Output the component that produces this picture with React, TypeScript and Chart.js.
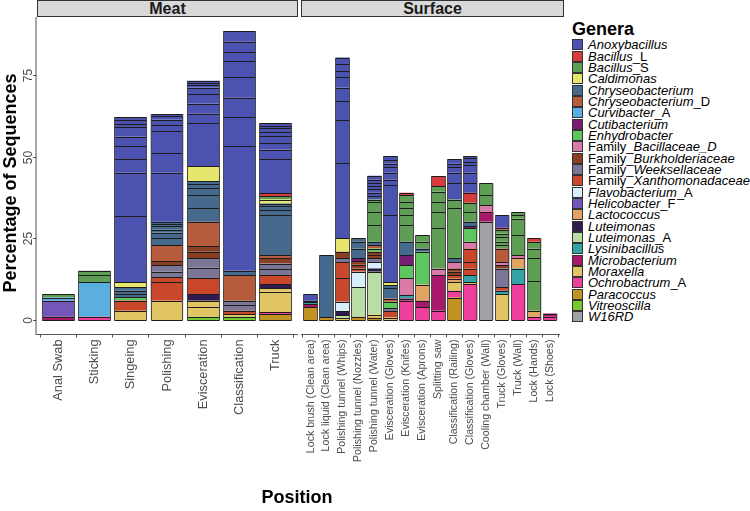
import React, { useEffect, useRef } from "react";
import { Chart, registerables } from "chart.js";

Chart.register(...registerables);

const FONT = "'Liberation Sans', Arial, Helvetica, sans-serif";

const genera = [
  "Anoxybacillus", "Bacillus_L", "Bacillus_S", "Caldimonas", "Chryseobacterium",
  "Chryseobacterium_D", "Curvibacter_A", "Cutibacterium", "Enhydrobacter",
  "Family_Bacillaceae_D", "Family_Burkholderiaceae", "Family_Weeksellaceae",
  "Family_Xanthomonadaceae", "Flavobacterium_A", "Helicobacter_F", "Lactococcus",
  "Luteimonas", "Luteimonas_A", "Lysinibacillus", "Microbacterium", "Moraxella",
  "Ochrobactrum_A", "Paracoccus", "Vitreoscilla", "W16RD",
];

const generaColors = [
  "#4B52AF", "#D83B3B", "#619E55", "#E6E66E", "#466A8E",
  "#B65C3C", "#5AAFE0", "#7A1C72", "#5EC65E",
  "#D87BA8", "#8B3F22", "#7B7696",
  "#C9482B", "#D9EEF8", "#7257B8", "#E2A462",
  "#2F1B4F", "#B9DDA3", "#33A3A5", "#A8196B", "#E1C463",
  "#F03E9B", "#C09322", "#74C92F", "#A0A1A4",
];

const meatCategories = [
  "Anal Swab", "Sticking", "Singeing", "Polishing", "Evisceration", "Classification", "Truck",
];

const surfaceCategories = [
  "Lock brush (Clean area)", "Lock liquid (Clean area)", "Polishing tunnel (Whips)",
  "Polishing tunnel (Nozzles)", "Polishing tunnel (Water)", "Evisceration (Gloves)",
  "Evisceration (Knifes)", "Evisceration (Aprons)", "Splitting saw",
  "Classification (Railing)", "Classification (Gloves)", "Cooling chamber (Wall)",
  "Truck (Gloves)", "Truck (Wall)", "Lock (Hands)", "Lock (Shoes)",
];

const yTicks = [0, 25, 50, 75];
const yMin = -4.4;
const yMax = 92.8;

type Seg = [string, number];

// Segments of each bar, listed bottom to top: [genus, percentage]
const meatSegments: Seg[][] = [
  [["Microbacterium", 1.0], ["Helicobacter_F", 4.9], ["Curvibacter_A", 1.0], ["Bacillus_S", 1.0]],
  [["Ochrobactrum_A", 1.0], ["Curvibacter_A", 10.7], ["Bacillus_S", 2.1], ["Bacillus_S", 1.3]],
  [["Moraxella", 2.9], ["Family_Xanthomonadaceae", 3.1], ["Enhydrobacter", 1.0],
   ["Chryseobacterium", 1.0], ["Chryseobacterium", 1.0], ["Chryseobacterium", 1.0], ["Caldimonas", 1.7],
   ["Anoxybacillus", 20.2], ["Anoxybacillus", 13.2], ["Anoxybacillus", 4.1], ["Anoxybacillus", 4.0],
   ["Anoxybacillus", 3.0], ["Anoxybacillus", 2.9], ["Anoxybacillus", 0.9], ["Anoxybacillus", 1.3],
   ["Anoxybacillus", 0.8]],
  [["Moraxella", 5.9], ["Family_Xanthomonadaceae", 5.8], ["Family_Xanthomonadaceae", 1.4],
   ["Family_Weeksellaceae", 1.7], ["Family_Weeksellaceae", 2.0], ["Family_Burkholderiaceae", 1.3],
   ["Chryseobacterium_D", 4.8], ["Chryseobacterium", 2.1], ["Chryseobacterium", 1.8],
   ["Chryseobacterium", 0.9], ["Chryseobacterium", 1.1], ["Chryseobacterium", 0.6], ["Chryseobacterium", 0.7],
   ["Anoxybacillus", 15.0], ["Anoxybacillus", 6.1], ["Anoxybacillus", 6.7], ["Anoxybacillus", 1.8],
   ["Anoxybacillus", 1.7], ["Anoxybacillus", 1.0], ["Anoxybacillus", 0.7]],
  [["Vitreoscilla", 1.0], ["Moraxella", 2.9], ["Moraxella", 2.0], ["Luteimonas", 2.1],
   ["Family_Xanthomonadaceae", 4.9], ["Family_Weeksellaceae", 3.1], ["Family_Weeksellaceae", 2.9],
   ["Family_Burkholderiaceae", 2.0], ["Family_Burkholderiaceae", 1.8], ["Chryseobacterium_D", 7.4],
   ["Chryseobacterium", 4.1], ["Chryseobacterium", 4.0], ["Chryseobacterium", 2.1],
   ["Chryseobacterium", 1.4], ["Chryseobacterium", 0.9], ["Caldimonas", 4.5],
   ["Anoxybacillus", 13.1], ["Anoxybacillus", 3.0], ["Anoxybacillus", 3.1], ["Anoxybacillus", 2.9],
   ["Anoxybacillus", 2.0], ["Anoxybacillus", 0.7], ["Anoxybacillus", 0.7], ["Anoxybacillus", 0.7]],
  [["Vitreoscilla", 1.0], ["Moraxella", 0.8], ["Family_Xanthomonadaceae", 1.1],
   ["Family_Weeksellaceae", 1.7], ["Family_Weeksellaceae", 1.3], ["Chryseobacterium_D", 7.9],
   ["Chryseobacterium", 1.3], ["Anoxybacillus", 38.1], ["Anoxybacillus", 9.0], ["Anoxybacillus", 5.9],
   ["Anoxybacillus", 6.2], ["Anoxybacillus", 4.9], ["Anoxybacillus", 2.9], ["Anoxybacillus", 3.1],
   ["Anoxybacillus", 3.2]],
  [["Paracoccus", 1.8], ["Ochrobactrum_A", 0.7], ["Moraxella", 6.2], ["Moraxella", 1.0],
   ["Luteimonas", 1.3], ["Family_Xanthomonadaceae", 2.8], ["Family_Weeksellaceae", 1.7],
   ["Family_Weeksellaceae", 1.8], ["Family_Burkholderiaceae", 1.6], ["Chryseobacterium_D", 1.0],
   ["Chryseobacterium", 12.2], ["Chryseobacterium", 1.5], ["Chryseobacterium", 1.3], ["Chryseobacterium", 0.8],
   ["Caldimonas", 1.2], ["Bacillus_S", 1.0], ["Bacillus_L", 1.0],
   ["Anoxybacillus", 10.3], ["Anoxybacillus", 3.0], ["Anoxybacillus", 1.9], ["Anoxybacillus", 2.2],
   ["Anoxybacillus", 1.3], ["Anoxybacillus", 1.1], ["Anoxybacillus", 0.7], ["Anoxybacillus", 0.8]],
];

const surfaceSegments: Seg[][] = [
  [["Paracoccus", 3.9], ["Microbacterium", 1.0], ["Lysinibacillus", 0.5], ["Chryseobacterium", 0.5],
   ["Anoxybacillus", 2.0]],
  [["Paracoccus", 0.9], ["Chryseobacterium", 19.0]],
  [["Moraxella", 0.7], ["Luteimonas_A", 0.9], ["Luteimonas", 1.2], ["Flavobacterium_A", 2.8],
   ["Family_Xanthomonadaceae", 7.3], ["Family_Xanthomonadaceae", 4.9], ["Family_Weeksellaceae", 1.1],
   ["Family_Burkholderiaceae", 2.0], ["Caldimonas", 4.1], ["Anoxybacillus", 23.1], ["Anoxybacillus", 13.1],
   ["Anoxybacillus", 5.9], ["Anoxybacillus", 4.1], ["Anoxybacillus", 3.1], ["Anoxybacillus", 2.0],
   ["Anoxybacillus", 2.0], ["Anoxybacillus", 2.1]],
  [["Paracoccus", 1.0], ["Luteimonas_A", 9.0], ["Flavobacterium_A", 4.8], ["Family_Xanthomonadaceae", 1.0],
   ["Family_Burkholderiaceae", 1.2], ["Family_Burkholderiaceae", 1.1], ["Cutibacterium", 0.8],
   ["Chryseobacterium", 3.0], ["Chryseobacterium", 2.1], ["Chryseobacterium", 1.0]],
  [["Paracoccus", 0.8], ["Moraxella", 0.9], ["Luteimonas_A", 13.1], ["Luteimonas", 1.0],
   ["Flavobacterium_A", 2.0], ["Family_Weeksellaceae", 1.1], ["Family_Burkholderiaceae", 1.0],
   ["Family_Burkholderiaceae", 1.0], ["Enhydrobacter", 1.0], ["Chryseobacterium_D", 1.1],
   ["Chryseobacterium", 1.0], ["Bacillus_S", 5.1], ["Bacillus_S", 4.0], ["Bacillus_S", 3.1],
   ["Bacillus_S", 0.7], ["Anoxybacillus", 1.1], ["Anoxybacillus", 1.0], ["Anoxybacillus", 1.0],
   ["Anoxybacillus", 1.0], ["Anoxybacillus", 1.0], ["Anoxybacillus", 1.0], ["Anoxybacillus", 1.2]],
  [["Moraxella", 0.8], ["Family_Xanthomonadaceae", 2.0], ["Family_Weeksellaceae", 0.8],
   ["Enhydrobacter", 2.0], ["Chryseobacterium_D", 1.0], ["Chryseobacterium", 3.1],
   ["Chryseobacterium", 1.0], ["Caldimonas", 1.0], ["Anoxybacillus", 20.4], ["Anoxybacillus", 9.2],
   ["Anoxybacillus", 1.7], ["Anoxybacillus", 2.1], ["Anoxybacillus", 1.8], ["Anoxybacillus", 1.0],
   ["Anoxybacillus", 1.1], ["Anoxybacillus", 1.2]],
  [["Ochrobactrum_A", 5.9], ["Microbacterium", 0.7], ["Lysinibacillus", 1.0],
   ["Family_Bacillaceae_D", 5.3], ["Enhydrobacter", 3.9], ["Cutibacterium", 3.1],
   ["Chryseobacterium", 4.1], ["Bacillus_S", 5.1], ["Bacillus_S", 3.0], ["Bacillus_S", 2.1],
   ["Bacillus_S", 2.0], ["Bacillus_S", 2.0], ["Bacillus_L", 0.8]],
  [["Ochrobactrum_A", 3.9], ["Microbacterium", 2.0], ["Lactococcus", 5.0], ["Enhydrobacter", 10.0],
   ["Chryseobacterium", 1.0], ["Bacillus_S", 2.1], ["Bacillus_S", 2.0]],
  [["Ochrobactrum_A", 2.9], ["Microbacterium", 10.9], ["Family_Bacillaceae_D", 2.0],
   ["Bacillus_S", 12.3], ["Bacillus_S", 5.0], ["Bacillus_S", 3.1], ["Bacillus_S", 3.1],
   ["Bacillus_S", 1.7], ["Bacillus_L", 3.1]],
  [["Paracoccus", 6.9], ["Ochrobactrum_A", 2.1], ["Moraxella", 2.7], ["Lactococcus", 1.0],
   ["Family_Xanthomonadaceae", 1.1], ["Family_Burkholderiaceae", 1.0], ["Family_Burkholderiaceae", 1.0],
   ["Family_Bacillaceae_D", 2.0], ["Chryseobacterium", 1.1], ["Bacillus_S", 15.3], ["Bacillus_S", 2.7],
   ["Anoxybacillus", 5.1], ["Anoxybacillus", 3.1], ["Anoxybacillus", 1.8], ["Anoxybacillus", 1.0],
   ["Anoxybacillus", 1.3]],
  [["Ochrobactrum_A", 11.0], ["Moraxella", 0.7], ["Lysinibacillus", 2.1],
   ["Family_Xanthomonadaceae", 2.0], ["Family_Xanthomonadaceae", 2.0], ["Family_Xanthomonadaceae", 4.1],
   ["Family_Bacillaceae_D", 2.1], ["Enhydrobacter", 4.1], ["Cutibacterium", 0.7],
   ["Chryseobacterium", 1.3], ["Bacillus_S", 3.0], ["Bacillus_S", 2.8], ["Bacillus_L", 3.1],
   ["Anoxybacillus", 3.0], ["Anoxybacillus", 3.1], ["Anoxybacillus", 2.3], ["Anoxybacillus", 1.0],
   ["Anoxybacillus", 1.1], ["Anoxybacillus", 0.7]],
  [["W16RD", 30.1], ["Microbacterium", 3.0], ["Family_Bacillaceae_D", 2.1], ["Bacillus_S", 3.0],
   ["Bacillus_S", 3.8]],
  [["Moraxella", 7.9], ["Lysinibacillus", 1.1], ["Family_Xanthomonadaceae", 1.0],
   ["Family_Weeksellaceae", 5.8], ["Family_Burkholderiaceae", 1.0], ["Family_Bacillaceae_D", 1.0],
   ["Chryseobacterium_D", 4.1], ["Bacillus_S", 1.0], ["Bacillus_S", 1.1], ["Bacillus_S", 1.3],
   ["Bacillus_S", 1.2], ["Bacillus_S", 1.2], ["Bacillus_L", 0.6], ["Anoxybacillus", 3.8]],
  [["Ochrobactrum_A", 11.0], ["Lysinibacillus", 4.8], ["Lactococcus", 3.1], ["Family_Bacillaceae_D", 1.0],
   ["Bacillus_S", 6.1], ["Bacillus_S", 5.1], ["Bacillus_S", 1.0], ["Bacillus_S", 1.0]],
  [["Ochrobactrum_A", 1.0], ["Lactococcus", 1.9], ["Bacillus_S", 9.1], ["Bacillus_S", 6.9],
   ["Bacillus_S", 3.0], ["Bacillus_S", 2.1], ["Bacillus_L", 1.0]],
  [["Ochrobactrum_A", 1.0], ["Microbacterium", 1.0]],
];

function buildDatasets(bars: Seg[][]) {
  const ds: any[] = [];
  for (let g = genera.length - 1; g >= 0; g--) {
    const name = genera[g];
    const perBar = bars.map((b) => b.filter((s) => s[0] === name));
    const maxK = Math.max(0, ...perBar.map((l) => l.length));
    for (let k = 0; k < maxK; k++) {
      const data: { x: number; y: number }[] = [];
      perBar.forEach((l, i) => {
        if (l[k]) data.push({ x: i, y: l[k][1] });
      });
      ds.push({
        label: name,
        data,
        backgroundColor: generaColors[g],
        borderWidth: 0,
        barPercentage: 0.9,
        categoryPercentage: 1,
        stack: "all",
      });
    }
  }
  return ds;
}

// Crisp outline of every stacked segment, like ggplot's colour = "black"
const outlinePlugin = {
  id: "segOutline",
  afterDatasetsDraw(chart: any) {
    const ctx = chart.ctx;
    ctx.save();
    ctx.lineWidth = 1;
    chart.data.datasets.forEach((_: any, di: number) => {
      const meta = chart.getDatasetMeta(di);
      meta.data.forEach((el: any) => {
        const { x, y, base, width } = el.getProps(["x", "y", "base", "width"], true);
        const l = Math.round(x - width / 2) + 0.5;
        const r = Math.round(x + width / 2) - 0.5;
        const t = Math.round(Math.min(y, base)) + 0.5;
        const b = Math.round(Math.max(y, base)) + 0.5;
        ctx.strokeStyle = "#1c1c1c";
        ctx.beginPath();
        ctx.moveTo(l, t);
        ctx.lineTo(r, t);
        ctx.moveTo(l, b);
        ctx.lineTo(r, b);
        ctx.stroke();
        ctx.strokeStyle = "#4a4a4a";
        ctx.beginPath();
        ctx.moveTo(l, t);
        ctx.lineTo(l, b);
        ctx.moveTo(r, t);
        ctx.lineTo(r, b);
        ctx.stroke();
      });
    });
    ctx.restore();
  },
};

const yAxisPlugin = {
  id: "yAxisDraw",
  afterDraw(chart: any) {
    const { ctx, chartArea, scales } = chart;
    const y = scales.y;
    const x0 = chartArea.left;
    ctx.save();
    ctx.strokeStyle = "#555";
    ctx.lineWidth = 1;
    ctx.beginPath();
    ctx.moveTo(x0 - 0.5, chartArea.top);
    ctx.lineTo(x0 - 0.5, chartArea.bottom + 0.5);
    ctx.stroke();
    ctx.fillStyle = "#4D4D4D";
    ctx.font = `12px ${FONT}`;
    ctx.textAlign = "center";
    ctx.textBaseline = "alphabetic";
    yTicks.forEach((v) => {
      const py = Math.round(y.getPixelForValue(v)) + 0.5;
      ctx.beginPath();
      ctx.moveTo(x0 - 3.5, py);
      ctx.lineTo(x0, py);
      ctx.stroke();
      ctx.save();
      ctx.translate(x0 - 4.5, py);
      ctx.rotate(-Math.PI / 2);
      ctx.fillText(String(v), 0, 0);
      ctx.restore();
    });
    ctx.restore();
  },
};

function makeConfig(categories: string[], bars: Seg[][], fontSize: number, padLeft: number, padRight: number, withY: boolean) {
  return {
    type: "bar" as const,
    data: { datasets: buildDatasets(bars) },
    plugins: withY ? [outlinePlugin, yAxisPlugin] : [outlinePlugin],
    options: {
      animation: false,
      responsive: false,
      maintainAspectRatio: false,
      layout: { padding: { left: padLeft, right: padRight, top: 17, bottom: 0 } },
      plugins: { legend: { display: false }, tooltip: { enabled: false }, title: { display: false } },
      scales: {
        x: {
          type: "linear",
          min: -0.6,
          max: categories.length - 1 + 0.6,
          offset: false,
          stacked: true,
          afterBuildTicks: (scale: any) => {
            scale.ticks = categories.map((_, i) => ({ value: i }));
          },
          afterFit: (scale: any) => {
            scale.height = 511 - 334.5;
          },
          ticks: {
            autoSkip: false,
            minRotation: 90,
            maxRotation: 90,
            padding: 2,
            color: "#4D4D4D",
            font: { size: fontSize, family: FONT },
            callback: (v: any) => categories[v] ?? "",
          },
          grid: { display: true, drawOnChartArea: false, drawTicks: true, tickLength: 3, color: "#555" },
          border: { display: true, color: "#555", width: 1 },
        },
        y: {
          type: "linear",
          min: yMin,
          max: yMax,
          stacked: true,
          display: false,
        },
      },
    },
  };
}

function LegendLabel({ name }: { name: string }) {
  if (name.startsWith("Family_")) {
    return (
      <>
        <span>Family_</span>
        <i>{name.slice(7)}</i>
      </>
    );
  }
  const m = name.match(/^(.*)_([A-Z])$/);
  if (m) {
    return (
      <>
        <i>{m[1]}</i>
        <span>_{m[2]}</span>
      </>
    );
  }
  return <i>{name}</i>;
}

export default function App() {
  const meatRef = useRef<HTMLCanvasElement>(null);
  const surfRef = useRef<HTMLCanvasElement>(null);

  useEffect(() => {
    const c1 = new Chart(meatRef.current as HTMLCanvasElement, makeConfig(meatCategories, meatSegments, 12.8, 36.5, 0.5, true) as any);
    const c2 = new Chart(surfRef.current as HTMLCanvasElement, makeConfig(surfaceCategories, surfaceSegments, 10.6, 2, 3, false) as any);
    return () => {
      c1.destroy();
      c2.destroy();
    };
  }, []);

  const stripStyle: React.CSSProperties = {
    position: "absolute",
    top: 0,
    height: 17,
    boxSizing: "border-box",
    background: "#D9D9D9",
    border: "1px solid #333",
    fontWeight: "bold",
    fontSize: 16,
    lineHeight: "15px",
    textAlign: "center",
    color: "#1A1A1A",
  };

  return (
    <div style={{ position: "absolute", left: 0, top: 0, width: 750, height: 511, background: "#fff", fontFamily: FONT, overflow: "hidden" }}>
      <canvas ref={meatRef} width={298} height={511} style={{ position: "absolute", left: 0, top: 0, width: 298, height: 511 }} />
      <canvas ref={surfRef} width={266} height={511} style={{ position: "absolute", left: 299, top: 0, width: 266, height: 511 }} />
      <div style={{ ...stripStyle, left: 37, width: 261 }}>Meat</div>
      <div style={{ ...stripStyle, left: 301, width: 263 }}>Surface</div>
      <div
        style={{
          position: "absolute",
          left: 10 - 150,
          top: 182.5 - 10,
          width: 300,
          height: 20,
          lineHeight: "20px",
          textAlign: "center",
          transform: "rotate(-90deg)",
          fontWeight: "bold",
          fontSize: 18,
          color: "#000",
        }}
      >
        Percentage of Sequences
      </div>
      <div style={{ position: "absolute", left: 197, top: 488, width: 200, textAlign: "center", fontWeight: "bold", fontSize: 18, lineHeight: "18px", color: "#000" }}>
        Position
      </div>
      <div style={{ position: "absolute", left: 572, top: 20, fontWeight: "bold", fontSize: 18, lineHeight: "18px", color: "#000" }}>Genera</div>
      {genera.map((g, i) => (
        <div key={g} style={{ position: "absolute", left: 572, top: 45 - 5.66 + i * 11.32, height: 11.32, display: "flex", alignItems: "center", whiteSpace: "nowrap" }}>
          <div style={{ width: 11, height: 11, boxSizing: "border-box", background: generaColors[i], border: "1px solid #333", marginRight: 5 }} />
          <div style={{ fontSize: 13, lineHeight: "11px", color: "#000" }}>
            <LegendLabel name={g} />
          </div>
        </div>
      ))}
    </div>
  );
}
